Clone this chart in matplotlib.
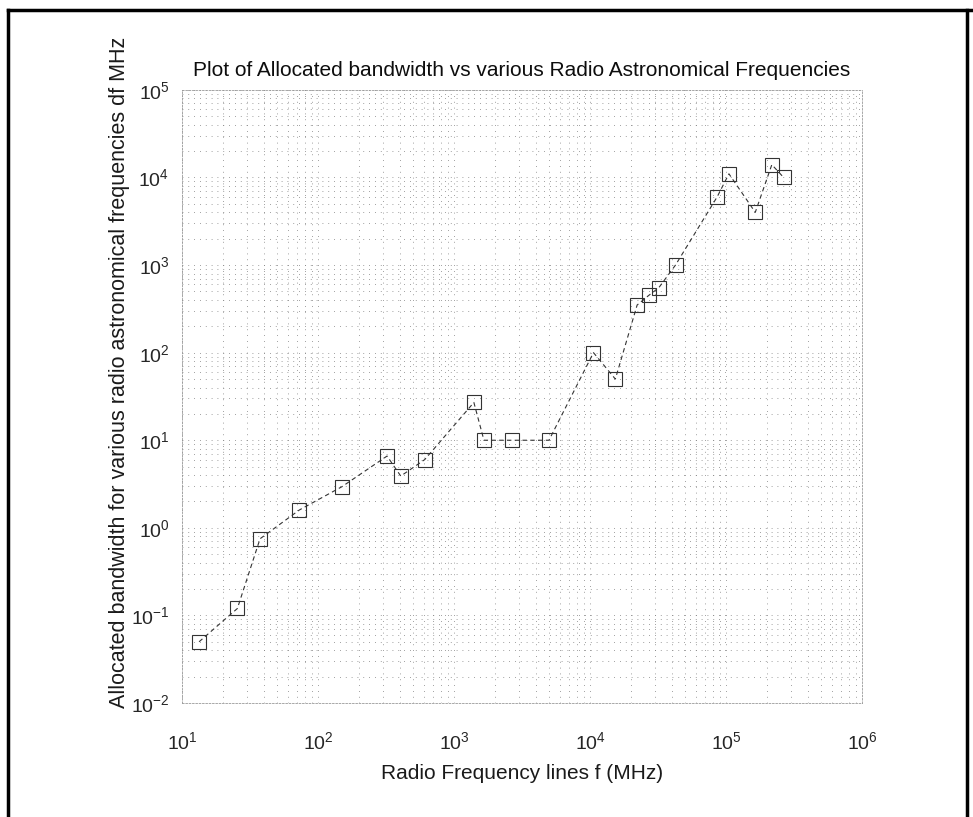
import matplotlib
matplotlib.use("Agg")
import matplotlib.pyplot as plt
from matplotlib.lines import Line2D
from matplotlib.ticker import LogLocator, NullFormatter

plt.rcParams['font.family'] = ['Liberation Sans', 'DejaVu Sans']
plt.rcParams['mathtext.fontset'] = 'custom'
plt.rcParams['mathtext.rm'] = 'Liberation Sans'

# radio astronomy bands: lower edge frequency (MHz) and allocated width (MHz)
freq_mhz = [13.36, 25.55, 37.5, 73.0, 150.05, 322.0, 406.1, 608.0, 1400.0,
            1660.0, 2690.0, 4990.0, 10600.0, 15350.0, 22200.0, 27000.0,
            32000.0, 42500.0, 86000.0, 105000.0, 164000.0, 217000.0, 265000.0]
bandwidth_mhz = [0.05, 0.12, 0.75, 1.6, 2.95, 6.6, 3.9, 6.0, 27.0,
                 10.0, 10.0, 10.0, 100.0, 50.0, 350.0, 450.0,
                 550.0, 1000.0, 6000.0, 11000.0, 4000.0, 14000.0, 10000.0]

fig = plt.figure(figsize=(9.73, 8.17), dpi=100)
ax = fig.add_axes([0.187, 0.1395, 0.699, 0.7505])

ax.loglog(freq_mhz, bandwidth_mhz, color='0.2', linestyle=(0, (4, 3)),
          linewidth=0.8, marker='s', markersize=10.5, markerfacecolor='none',
          markeredgecolor='0.2', markeredgewidth=0.8)

ax.set_xlim(1e1, 1e6)
ax.set_ylim(1e-2, 1e5)
ax.xaxis.set_major_locator(LogLocator(base=10, numticks=10))
ax.yaxis.set_major_locator(LogLocator(base=10, numticks=10))
ax.xaxis.set_minor_locator(LogLocator(base=10, subs=range(2, 10), numticks=20))
ax.yaxis.set_minor_locator(LogLocator(base=10, subs=range(2, 10), numticks=20))
ax.xaxis.set_minor_formatter(NullFormatter())
ax.yaxis.set_minor_formatter(NullFormatter())

ax.grid(True, which='both', color='0.5', linestyle=(0, (1, 6)), linewidth=0.6)
ax.tick_params(which='both', direction='in', length=0, labelsize=14,
               labelcolor='0.15')
ax.tick_params(axis='x', pad=20)
ax.tick_params(axis='y', pad=9)
for s in ax.spines.values():
    s.set_color('0.6')
    s.set_linewidth(0.6)
    s.set_linestyle((0, (2, 2)))

ax.set_title('Plot of Allocated bandwidth vs various Radio Astronomical Frequencies',
             fontsize=15, color='0.05', pad=10)
ax.set_xlabel('Radio Frequency lines f (MHz)', fontsize=15, color='0.1',
              labelpad=8)
ax.set_ylabel('Allocated bandwidth for various radio astronomical frequencies df MHz',
              fontsize=15.5, color='0.1')
ax.yaxis.set_label_coords(-0.076, 0.54)

# page frame around the figure
for xs, ys in [([0.008, 0.008], [0.0, 0.988]), ([0.008, 1.0], [0.988, 0.988]),
               ([0.994, 0.994], [0.0, 0.988])]:
    fig.add_artist(Line2D(xs, ys, color='black', linewidth=2.5,
                          transform=fig.transFigure))

fig.savefig('out.png', dpi=100)
